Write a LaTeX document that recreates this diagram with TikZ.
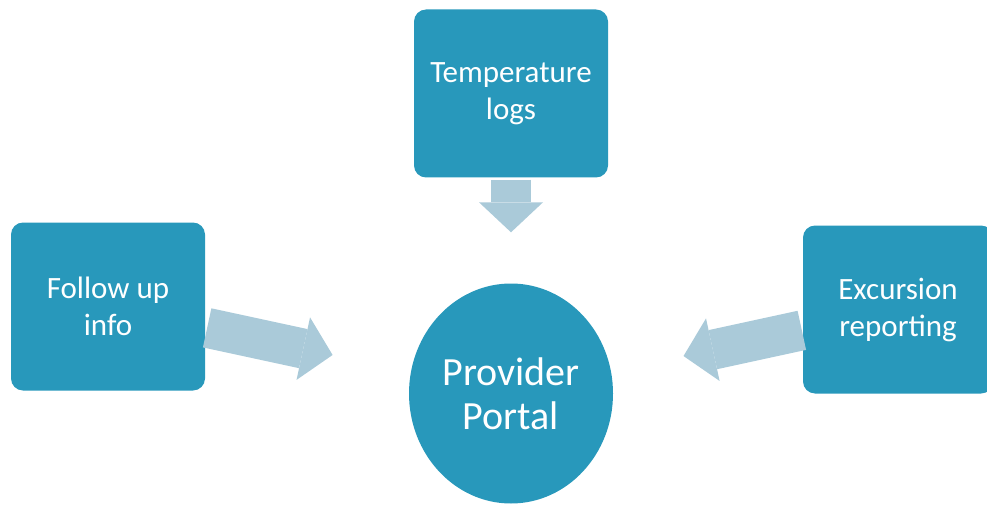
\documentclass[tikz,border=0pt]{standalone}
\usepackage{fontspec}
\setmainfont{Carlito}
\usetikzlibrary{arrows.meta,shapes.geometric}
\definecolor{boxblue}{HTML}{2898BB}
\definecolor{arrblue}{HTML}{AACAD9}
\begin{document}
\begin{tikzpicture}[x=1pt, y=-1pt,
  box/.style={rectangle, rounded corners=12pt, fill=boxblue, text=white, align=center,
    font=\fontsize{31}{37}\selectfont, minimum width=194pt, minimum height=168pt, inner sep=0pt},
  portal/.style={ellipse, fill=boxblue, text=white, align=center,
    font=\fontsize{40}{44}\selectfont, minimum width=204pt, minimum height=220pt, inner sep=0pt},
  bigarrow/.style={draw=arrblue, line width=40pt,
    -{Triangle[width=64pt, length=30pt, line width=0pt]}}]
\useasboundingbox (0,0) rectangle (987,505);
\node[box] (tlog) at (511,93.5){Temperature\\logs};
\node[box] (fup) at (108,306.5){Follow up\\info};
\node[box, minimum width=190pt] (exc) at (898,309.5){Excursion\\reporting};
\node[portal] (portal) at (511,393.5){Provider\\Portal};
\draw[bigarrow, shorten <=2pt, shorten >=51pt](tlog) -- (portal);
\draw[bigarrow, shorten <=2pt, shorten >=80pt](fup) -- (portal);
\draw[bigarrow, shorten <=1pt, shorten >=74pt](exc) -- (portal);
\end{tikzpicture}
\end{document}
